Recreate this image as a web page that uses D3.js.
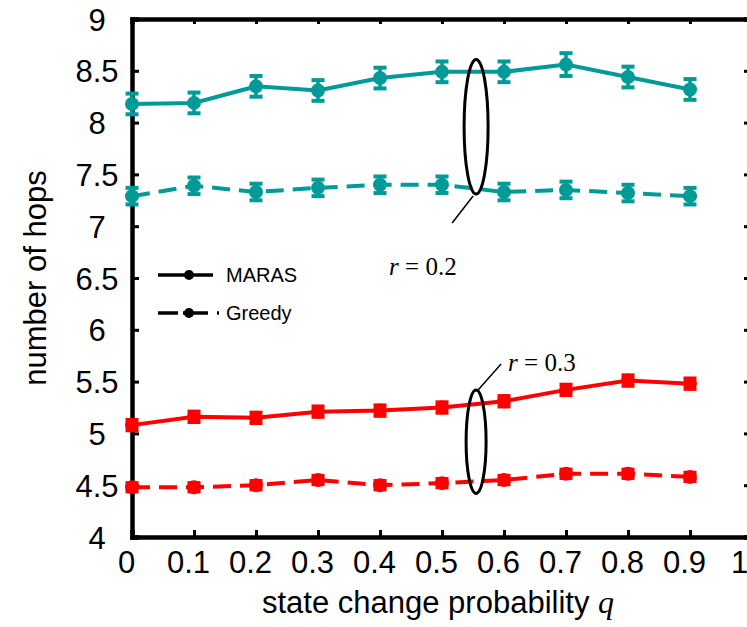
<!DOCTYPE html>
<html>
<head>
<meta charset="utf-8">
<script src="https://cdn.jsdelivr.net/npm/d3@7"></script>
<style>
  body { margin: 0; background: #fff; }
  svg { display: block; }
</style>
</head>
<body>
<div id="chart"></div>
<script>
// values
const qValues = [0, 0.1, 0.2, 0.3, 0.4, 0.5, 0.6, 0.7, 0.8, 0.9];
const marasR02 = [8.18, 8.19, 8.35, 8.31, 8.43, 8.49, 8.49, 8.56, 8.44, 8.32];
const marasR02Err = [0.10, 0.10, 0.10, 0.10, 0.10, 0.10, 0.10, 0.11, 0.10, 0.10];
const greedyR02 = [7.29, 7.39, 7.33, 7.37, 7.40, 7.40, 7.33, 7.35, 7.32, 7.29];
const greedyR02Err = [0.08, 0.08, 0.08, 0.08, 0.08, 0.08, 0.08, 0.08, 0.08, 0.08];
const marasR03 = [5.08, 5.16, 5.15, 5.21, 5.22, 5.25, 5.31, 5.42, 5.51, 5.48];
const marasR03Err = [0.05, 0.05, 0.05, 0.05, 0.05, 0.05, 0.05, 0.05, 0.05, 0.05];
const greedyR03 = [4.48, 4.48, 4.50, 4.55, 4.50, 4.52, 4.55, 4.61, 4.61, 4.58];
const greedyR03Err = [0.04, 0.04, 0.04, 0.04, 0.04, 0.04, 0.04, 0.04, 0.04, 0.04];
const xTicks = [0, 0.1, 0.2, 0.3, 0.4, 0.5, 0.6, 0.7, 0.8, 0.9, 1];
const yTicks = [4, 4.5, 5, 5.5, 6, 6.5, 7, 7.5, 8, 8.5, 9];
const legendNames = ["MARAS", "Greedy"];
// annotation ellipses: q position, value span, label
const groupMarks = [
  { q: 0.555, lo: 7.31, hi: 8.61, label: "0.2" },
  { q: 0.555, lo: 4.42, hi: 5.42, label: "0.3" }
];

const width = 747;
const height = 627;
const marginLeft = 132;
const marginTop = 19;
const plotRight = 752; // right frame sits just outside the window
const plotBottom = 537;

const teal = "#009a98";
const red = "#ff0000";
const sans = "'Liberation Sans', Arial, sans-serif";
const serif = "'Liberation Serif', 'Times New Roman', serif";

const x = d3.scaleLinear().domain([0, 1]).range([marginLeft, plotRight]);
const y = d3.scaleLinear().domain([4, 9]).range([plotBottom, marginTop]);

const svg = d3
  .select("#chart")
  .append("svg")
  .attr("width", width)
  .attr("height", height)
  .attr("viewBox", [0, 0, width, height]);

// frame + inward ticks
const fmt = (d) => String(d);

const gLeft = svg
  .append("g")
  .attr("transform", `translate(${marginLeft},0)`)
  .call(d3.axisLeft(y).tickValues(yTicks).tickSize(-7).tickFormat(fmt));
gLeft.select(".domain").attr("stroke-width", 4.5);
gLeft.selectAll(".tick line").attr("stroke-width", 3);
gLeft
  .selectAll(".tick text")
  .attr("x", -35)
  .attr("dy", "0.36em")
  .attr("text-anchor", "middle")
  .attr("font-family", sans)
  .attr("font-size", 31)
  .attr("fill", "#000");

const gBottom = svg
  .append("g")
  .attr("transform", `translate(0,${plotBottom})`)
  .call(d3.axisBottom(x).tickValues(xTicks).tickSize(-7).tickPadding(14).tickFormat(fmt));
gBottom.select(".domain").attr("stroke-width", 4.5);
gBottom.selectAll(".tick line").attr("stroke-width", 3);
gBottom
  .selectAll(".tick text")
  .attr("x", (d) => (d == 1 ? -13 : -6))
  .attr("font-family", sans)
  .attr("font-size", 31)
  .attr("fill", "#000");

const gTop = svg
  .append("g")
  .attr("transform", `translate(0,${marginTop})`)
  .call(d3.axisTop(x).tickValues(xTicks).tickSize(-5).tickFormat(""));
gTop.select(".domain").attr("stroke-width", 4.5);
gTop.selectAll(".tick line").attr("stroke-width", 3);

const gRight = svg
  .append("g")
  .attr("transform", `translate(${plotRight},0)`)
  .call(d3.axisRight(y).tickValues(yTicks).tickSize(-8).tickFormat(""));
gRight.select(".domain").attr("stroke-width", 4.5);
gRight.selectAll(".tick line").attr("stroke-width", 3);

svg.selectAll(".domain").attr("stroke", "#000");
svg.selectAll(".tick line").attr("stroke", "#000");

// axis titles
svg
  .append("text")
  .attr("transform", `translate(46,${(marginTop + plotBottom) / 2}) rotate(-90)`)
  .attr("text-anchor", "middle")
  .attr("font-family", sans)
  .attr("font-size", 31)
  .text("number of hops");

const xTitle = svg
  .append("text")
  .attr("x", (marginLeft + plotRight) / 2 - 4)
  .attr("y", 613)
  .attr("text-anchor", "middle")
  .attr("font-family", sans)
  .attr("font-size", 31);
xTitle.append("tspan").text("state change probability ");
xTitle
  .append("tspan")
  .attr("font-family", serif)
  .attr("font-style", "italic")
  .attr("font-size", 32)
  .text("q");

// series
const series = [
  { vals: marasR02, err: marasR02Err, color: teal, dash: null },
  { vals: greedyR02, err: greedyR02Err, color: teal, dash: "18,9" },
  { vals: marasR03, err: marasR03Err, color: red, dash: null },
  { vals: greedyR03, err: greedyR03Err, color: red, dash: "18,9" }
];

const line = d3
  .line()
  .x((d) => x(d.q))
  .y((d) => y(d.v));

series.forEach(function (s) {
  const pts = qValues.map((q, i) => ({ q: q, v: s.vals[i], e: s.err[i] }));

  svg
    .append("path")
    .datum(pts)
    .attr("fill", "none")
    .attr("stroke", s.color)
    .attr("stroke-width", 4)
    .attr("stroke-dasharray", s.dash)
    .attr("d", line);

  const g = svg.append("g").attr("fill", s.color).attr("stroke", s.color);

  // error bars
  g.selectAll(".err")
    .data(pts)
    .join("line")
    .attr("x1", (d) => x(d.q))
    .attr("x2", (d) => x(d.q))
    .attr("y1", (d) => y(d.v - d.e))
    .attr("y2", (d) => y(d.v + d.e))
    .attr("stroke-width", 3.5);

  ["lo", "hi"].forEach(function (side) {
    g.selectAll(".cap-" + side)
      .data(pts)
      .join("line")
      .attr("x1", (d) => x(d.q) - 6.5)
      .attr("x2", (d) => x(d.q) + 6.5)
      .attr("y1", (d) => y(side == "lo" ? d.v - d.e : d.v + d.e))
      .attr("y2", (d) => y(side == "lo" ? d.v - d.e : d.v + d.e))
      .attr("stroke-width", 4);
  });

  g.selectAll("circle")
    .data(pts)
    .join("circle")
    .attr("cx", (d) => x(d.q))
    .attr("cy", (d) => y(d.v))
    .attr("r", 7)
    .attr("stroke", "none");
});

// group annotations (ellipse + leader + label)
const a02 = groupMarks[0];
svg
  .append("ellipse")
  .attr("cx", x(a02.q))
  .attr("cy", (y(a02.lo) + y(a02.hi)) / 2)
  .attr("rx", 12)
  .attr("ry", (y(a02.lo) - y(a02.hi)) / 2)
  .attr("fill", "none")
  .attr("stroke", "#000")
  .attr("stroke-width", 3);
svg
  .append("line")
  .attr("x1", x(a02.q) - 3)
  .attr("y1", y(a02.lo) + 2)
  .attr("x2", x(a02.q) - 24)
  .attr("y2", y(a02.lo) + 29)
  .attr("stroke", "#000")
  .attr("stroke-width", 1.5);
const t02 = svg
  .append("text")
  .attr("x", x(a02.q) - 87)
  .attr("y", y(a02.lo) + 81)
  .attr("font-family", serif)
  .attr("font-size", 25)
  .attr("xml:space", "preserve");
t02.append("tspan").attr("font-style", "italic").text("r");
t02.append("tspan").text(" = " + a02.label);

const a03 = groupMarks[1];
svg
  .append("ellipse")
  .attr("cx", x(a03.q))
  .attr("cy", (y(a03.lo) + y(a03.hi)) / 2)
  .attr("rx", 10)
  .attr("ry", (y(a03.lo) - y(a03.hi)) / 2)
  .attr("fill", "none")
  .attr("stroke", "#000")
  .attr("stroke-width", 3);
svg
  .append("line")
  .attr("x1", x(a03.q) + 2)
  .attr("y1", y(a03.hi))
  .attr("x2", x(a03.q) + 25)
  .attr("y2", y(a03.hi) - 26)
  .attr("stroke", "#000")
  .attr("stroke-width", 1.5);
const t03 = svg
  .append("text")
  .attr("x", x(a03.q) + 32)
  .attr("y", y(a03.hi) - 19)
  .attr("font-family", serif)
  .attr("font-size", 25)
  .attr("xml:space", "preserve");
t03.append("tspan").attr("font-style", "italic").text("r");
t03.append("tspan").text(" = " + a03.label);

// legend
const legend = svg.append("g").attr("transform", "translate(158,275)");
legendNames.forEach(function (name, i) {
  const row = legend.append("g").attr("transform", `translate(0,${i * 38})`);
  row
    .append("line")
    .attr("x1", 0)
    .attr("x2", i == 0 ? 55 : 61)
    .attr("stroke", "#000")
    .attr("stroke-width", 3.5)
    .attr("stroke-dasharray", i == 0 ? null : "20,5,25,9,2");
  row.append("circle").attr("cx", 31).attr("r", 5).attr("fill", "#000");
  row
    .append("text")
    .attr("x", 68)
    .attr("dy", "0.36em")
    .attr("font-family", sans)
    .attr("font-size", 20)
    .text(name);
});
</script>
</body>
</html>
